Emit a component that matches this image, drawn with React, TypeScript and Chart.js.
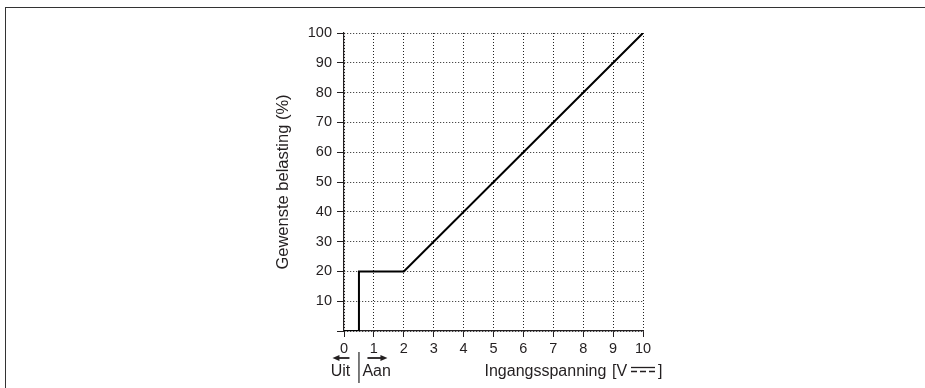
import React, { useEffect, useRef } from "react";
import { Chart, registerables } from "chart.js";

Chart.register(...registerables);

// ---- data ----
const voltage = [0, 0.5, 0.5, 2, 10];
const load = [0, 0, 20, 20, 100];
const xMin = 0;
const xMax = 10;
const xStep = 1;
const yMin = 0;
const yMax = 100;
const yStep = 10;
const yTitle = "Gewenste belasting (%)";
const xTitle = "Ingangsspanning";
const unitOpen = "[V";
const unitClose = "]";
const offLabel = "Uit";
const onLabel = "Aan";
const switchPoint = 0.5;

const FONT = "'Liberation Sans', Arial, Helvetica, sans-serif";
const INK = "#231f20";

function arrow(ctx: CanvasRenderingContext2D, x1: number, x2: number, y: number) {
  const dir = Math.sign(x2 - x1);
  ctx.beginPath();
  ctx.moveTo(x1, y);
  ctx.lineTo(x2 - dir * 5, y);
  ctx.stroke();
  ctx.beginPath();
  ctx.moveTo(x2, y);
  ctx.lineTo(x2 - dir * 7, y - 3);
  ctx.lineTo(x2 - dir * 7, y + 3);
  ctx.closePath();
  ctx.fill();
}

const annotations = {
  id: "annotations",
  afterDraw(chart: any) {
    const { ctx, chartArea, scales } = chart;
    const x = scales.x;
    const b = chartArea.bottom;
    const r = chartArea.right;
    const sep = x.getPixelForValue(switchPoint);
    ctx.save();
    ctx.strokeStyle = "#6d6d6d";
    ctx.lineWidth = 1.8;
    ctx.beginPath();
    ctx.moveTo(sep, b + 21);
    ctx.lineTo(sep, b + 52);
    ctx.stroke();
    ctx.strokeStyle = INK;
    ctx.fillStyle = INK;
    ctx.lineWidth = 1.8;
    arrow(ctx, sep - 9.5, sep - 26.5, b + 27);
    arrow(ctx, sep + 8.5, sep + 28.5, b + 27);
    ctx.font = `16px ${FONT}`;
    ctx.textBaseline = "middle";
    ctx.textAlign = "center";
    ctx.fillText(offLabel, sep - 18.5, b + 40.5);
    ctx.textAlign = "left";
    ctx.fillText(onLabel, sep + 3.5, b + 40.5);
    ctx.fillText(xTitle, r - 158.5, b + 40.5);
    ctx.fillText(unitOpen, r - 31, b + 40.5);
    ctx.fillText(unitClose, r + 15, b + 40.5);
    ctx.lineWidth = 1.3;
    ctx.beginPath();
    ctx.moveTo(r - 12, b + 36.5);
    ctx.lineTo(r + 12, b + 36.5);
    ctx.stroke();
    ctx.setLineDash([6, 3]);
    ctx.beginPath();
    ctx.moveTo(r - 12, b + 40.5);
    ctx.lineTo(r + 12, b + 40.5);
    ctx.stroke();
    ctx.restore();
  },
};

export default function App() {
  const ref = useRef<HTMLCanvasElement | null>(null);

  useEffect(() => {
    if (!ref.current) return;
    const gridCommon = {
      color: "#222",
      lineWidth: 1,
      tickBorderDash: [],
      tickColor: INK,
      tickWidth: 1,
      drawTicks: true,
    };
    const borderCommon = { display: true, color: INK, width: 1.2, dash: [1, 2] };
    const chart = new Chart(ref.current, {
      type: "scatter",
      data: {
        datasets: [
          {
            data: voltage.map((v, i) => ({ x: v, y: load[i] })),
            showLine: true,
            borderColor: "#000",
            borderWidth: 2,
            pointRadius: 0,
            tension: 0,
            fill: false,
          },
        ],
      },
      options: {
        animation: false,
        responsive: false,
        maintainAspectRatio: false,
        events: [],
        layout: { padding: { left: 264, right: 282, top: 33, bottom: 0 } },
        plugins: {
          legend: { display: false },
          tooltip: { enabled: false },
        },
        scales: {
          x: {
            type: "linear",
            min: xMin,
            max: xMax,
            afterFit: (s: any) => {
              s.height = 57;
            },
            ticks: {
              stepSize: xStep,
              color: INK,
              padding: 3,
              font: { family: FONT, size: 14.5 },
              maxRotation: 0,
            },
            grid: { ...gridCommon, tickLength: 6 },
            border: borderCommon,
          },
          y: {
            type: "linear",
            min: yMin,
            max: yMax,
            afterFit: (s: any) => {
              s.width = 80;
            },
            ticks: {
              stepSize: yStep,
              color: INK,
              padding: 5,
              font: { family: FONT, size: 14.5 },
              callback: (v: any) => (v === 0 ? "" : String(v)),
            },
            grid: { ...gridCommon, tickLength: 7 },
            border: borderCommon,
            title: {
              display: true,
              text: yTitle,
              color: INK,
              font: { family: FONT, size: 16.5 },
              padding: { top: 10, bottom: 0 },
            },
          },
        },
      },
      plugins: [annotations],
    } as any);
    return () => chart.destroy();
  }, []);

  return (
    <div style={{ position: "absolute", left: 0, top: 0, width: 925, height: 388, background: "#fff", overflow: "hidden" }}>
      <div
        style={{
          position: "absolute",
          left: 5,
          top: 7,
          width: 930,
          height: 400,
          borderTop: "1px solid #333",
          borderLeft: "1px solid #333",
          boxSizing: "border-box",
        }}
      />
      <canvas ref={ref} width={925} height={388} style={{ position: "absolute", left: 0, top: 0, width: 925, height: 388 }} />
    </div>
  );
}
